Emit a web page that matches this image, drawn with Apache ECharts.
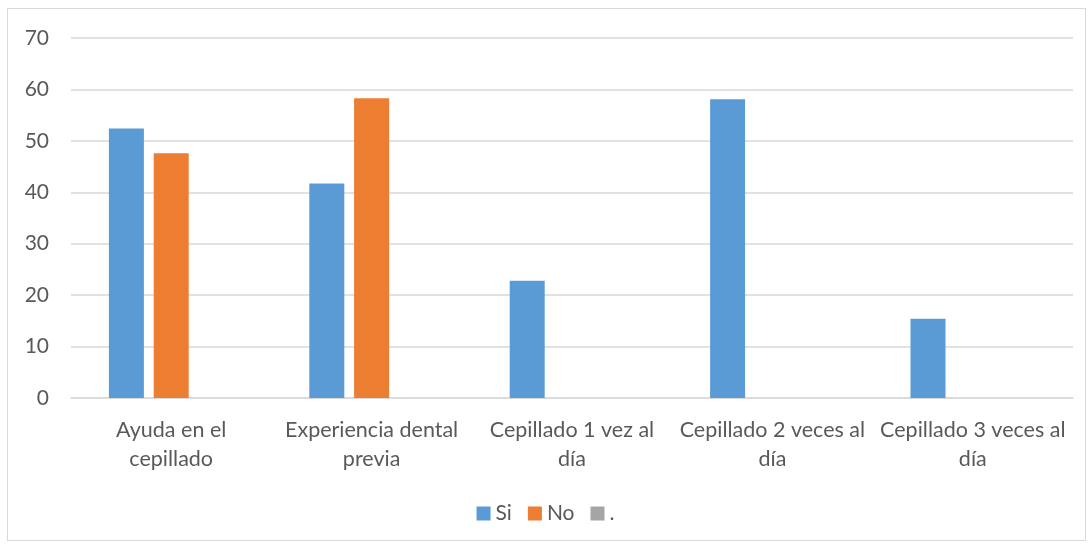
<!DOCTYPE html>
<html>
<head>
<meta charset="utf-8">
<script src="https://cdn.jsdelivr.net/npm/echarts@6/dist/echarts.min.js"></script>
<style>
  html, body { margin: 0; padding: 0; background: #fff; }
  #chart { width: 1091px; height: 546px; }
  #frame { position: absolute; left: 7px; top: 8px; width: 1077px; height: 531px; border: 1px solid #d9d9d9; pointer-events: none; }
</style>
</head>
<body>
<div id="chart"></div>
<div id="frame"></div>
<script>
const categories = ['Ayuda en el\ncepillado', 'Experiencia dental\nprevia', 'Cepillado 1 vez al\ndía', 'Cepillado 2 veces al\ndía', 'Cepillado 3 veces al\ndía']
const siValues = [52.4, 41.7, 22.8, 58.1, 15.4]
const noValues = [47.6, 58.3, null, null, null]
const dotValues = [null, null, null, null, null]
const yTicks = { min: 0, max: 70, interval: 10 }

const textColor = '#595959'
const font = 'Lato'

const chart = echarts.init(document.getElementById('chart'))
chart.setOption({
  animation: false,
  textStyle: { fontFamily: font },
  grid: { left: 71, right: 18, top: 38, bottom: 148 },
  legend: {
    bottom: 17,
    left: 'center',
    itemWidth: 14,
    itemHeight: 14,
    itemGap: 16,
    icon: 'rect',
    textStyle: { color: textColor, fontSize: 21, fontFamily: font },
    data: ['Si', 'No', '.']
  },
  xAxis: {
    type: 'category',
    data: categories,
    axisTick: { show: false },
    axisLine: { lineStyle: { color: '#d9d9d9', width: 1.5 } },
    axisLabel: { color: textColor, fontSize: 21.5, lineHeight: 29, margin: 18, interval: 0 }
  },
  yAxis: {
    type: 'value',
    min: yTicks.min,
    max: yTicks.max,
    interval: yTicks.interval,
    axisLine: { show: false },
    axisTick: { show: false },
    splitLine: { lineStyle: { color: '#d9d9d9', width: 1.5 } },
    axisLabel: { color: textColor, fontSize: 21, margin: 22 }
  },
  series: [
    { name: 'Si', type: 'bar', data: siValues, barWidth: 35, barGap: '28%', barCategoryGap: '38%', itemStyle: { color: '#5b9bd5' } },
    { name: 'No', type: 'bar', data: noValues, barWidth: 35, barGap: '28%', itemStyle: { color: '#ed7d31' } },
    { name: '.', type: 'bar', data: dotValues, barWidth: 35, barGap: '28%', itemStyle: { color: '#a5a5a5' } }
  ]
})
</script>
</body>
</html>
